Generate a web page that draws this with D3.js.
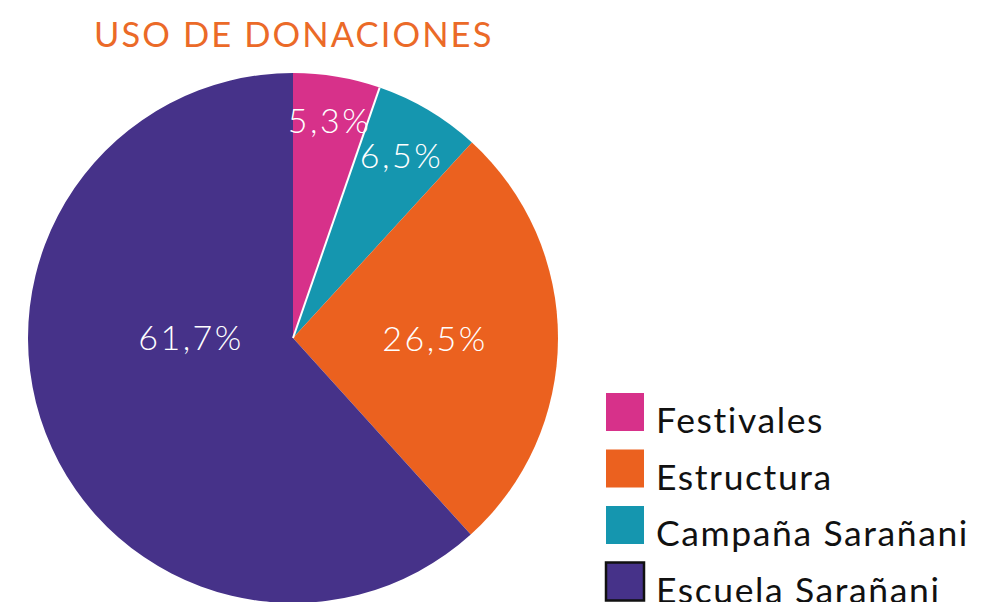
<!DOCTYPE html>
<html><head><meta charset="utf-8">
<script src="https://cdn.jsdelivr.net/npm/d3@7"></script>
<style>body{margin:0;background:#fff}svg{display:block}</style>
</head><body>
<svg id="c" width="985" height="602"></svg>
<script>
const title = "USO DE DONACIONES";
const sliceCategories = ["Festivales", "Campaña Sarañani", "Estructura", "Escuela Sarañani"];
const sliceValues = [5.3, 6.5, 26.5, 61.7];
const sliceLabels = ["5,3%", "6,5%", "26,5%", "61,7%"];
const legendCategories = ["Festivales", "Estructura", "Campaña Sarañani", "Escuela Sarañani"];
const colorMap = {"Festivales":"#D7318A","Estructura":"#EB611F","Campaña Sarañani":"#1596AF","Escuela Sarañani":"#463289"};

const svg = d3.select("#c");
const cx = 293, cy = 338, R = 265;
const font = "Lato, 'Open Sans', sans-serif";

svg.append("text").attr("x", 94).attr("y", 47).attr("fill", "#EB6A28")
  .attr("font-family", font).attr("font-size", 34.5).attr("letter-spacing", 2.1).text(title);

const data = sliceCategories.map((c,i)=>({cat:c, value:sliceValues[i], label:sliceLabels[i]}));
const pie = d3.pie().sort(null).value(d=>d.value);
const arcs = pie(data);
const arc = d3.arc().innerRadius(0).outerRadius(R);
const g = svg.append("g").attr("transform", `translate(${cx},${cy})`);
g.selectAll("path").data(arcs).join("path")
  .attr("d", arc).attr("fill", d=>colorMap[d.data.cat]);
// white separator between Festivales and Campaña
const a1 = arcs[0].endAngle;
g.append("line").attr("x1",0).attr("y1",0)
  .attr("x2", R*Math.sin(a1)).attr("y2", -R*Math.cos(a1))
  .attr("stroke","#fff").attr("stroke-width",2);

const labelPlace = {"Festivales":{r:220},"Campaña Sarañani":{r:212},"Estructura":{r:142},"Escuela Sarañani":{r:102, angle:-Math.PI/2}};
const fs = 34;
const ang = d=>{const p=labelPlace[d.data.cat]; return p.angle!==undefined? p.angle : (d.startAngle+d.endAngle)/2;};
g.selectAll("text.lab").data(arcs).join("text").attr("class","lab")
  .attr("font-family", font).attr("font-size", fs).attr("font-weight", 300)
  .attr("letter-spacing", 2.5)
  .attr("fill","#fff").attr("text-anchor","middle")
  .attr("x", d=>labelPlace[d.data.cat].r*Math.sin(ang(d)))
  .attr("y", d=>-labelPlace[d.data.cat].r*Math.cos(ang(d))+fs*0.36)
  .text(d=>d.data.label);

const leg = svg.append("g").attr("transform","translate(606,393)");
const row = leg.selectAll("g").data(legendCategories).join("g")
  .attr("transform",(d,i)=>`translate(0,${i*56.5})`);
row.append("rect").attr("width",38).attr("height",38)
  .attr("fill", d=>colorMap[d])
  .attr("stroke", d=>d==="Escuela Sarañani"?"#111":"none").attr("stroke-width",2.5);
row.append("text").attr("x",50).attr("y",40).attr("font-family",font)
  .attr("font-size",35.5).attr("letter-spacing",1.6).attr("fill","#111").text(d=>d);
</script>
</body></html>
